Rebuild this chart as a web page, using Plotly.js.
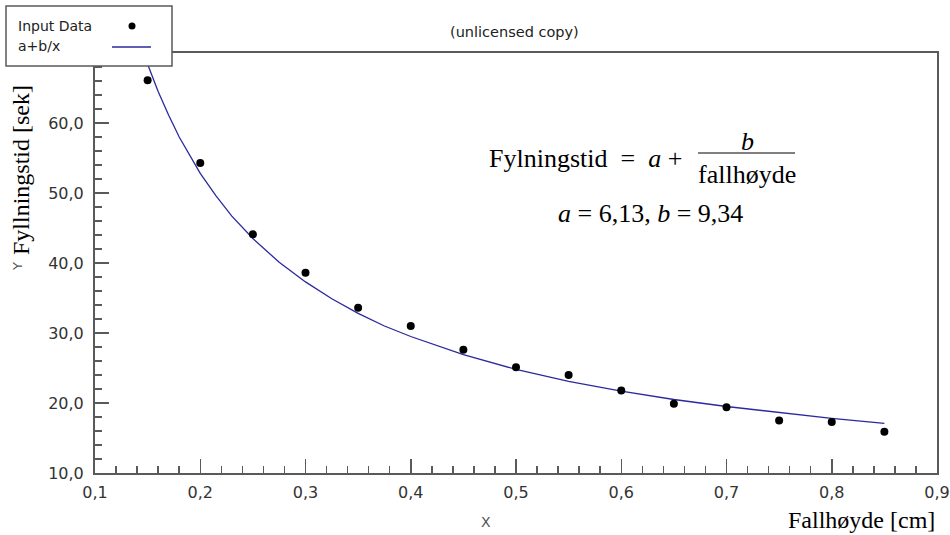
<!DOCTYPE html>
<html>
<head>
<meta charset="utf-8">
<script src="https://cdn.plot.ly/plotly-3.0.1.min.js"></script>
<style>html,body{margin:0;padding:0;background:#fff;}#chart{width:950px;height:535px;}</style>
</head>
<body>
<div id="chart"></div>
<script>
// Data
const inputX = [0.15, 0.20, 0.25, 0.30, 0.35, 0.40, 0.45, 0.50, 0.55, 0.60, 0.65, 0.70, 0.75, 0.80, 0.85];
const inputY = [66.1, 54.3, 44.1, 38.6, 33.6, 31.0, 27.6, 25.1, 24.0, 21.8, 19.9, 19.4, 17.5, 17.3, 15.9];
const fitX = [0.14, 0.145, 0.15, 0.16, 0.17, 0.18, 0.19, 0.20, 0.215, 0.23, 0.25, 0.275, 0.30, 0.325, 0.35, 0.375, 0.40, 0.45, 0.50, 0.55, 0.60, 0.65, 0.70, 0.75, 0.80, 0.85];
const fitY = [72.8, 70.5, 68.4, 64.5, 61.1, 58.0, 55.3, 52.8, 49.6, 46.7, 43.5, 40.1, 37.3, 34.9, 32.8, 31.0, 29.5, 26.9, 24.8, 23.1, 21.7, 20.5, 19.5, 18.6, 17.8, 17.1];
const xTicks = [0.1, 0.2, 0.3, 0.4, 0.5, 0.6, 0.7, 0.8, 0.9];
const yTicks = [10, 20, 30, 40, 50, 60];
const legendNames = ["Input Data", "a+b/x"];

// Layout geometry helpers (pixels -> paper)
const W = 950, H = 535;
const M = {l: 95, r: 13, t: 53, b: 62};
const PW = W - M.l - M.r, PH = H - M.t - M.b;
const px = v => (v - M.l) / PW;
const py = v => (H - M.b - v) / PH;

const frameColor = '#5a5a5a';
const lineColor = '#2a2a9c';
const sans = 'DejaVu Sans, sans-serif';
const serif = 'Liberation Serif, Times New Roman, serif';

const traces = [
  {x: fitX, y: fitY, type: 'scatter', mode: 'lines', name: legendNames[1],
   line: {color: lineColor, width: 1.3}, showlegend: false},
  {x: inputX, y: inputY, type: 'scatter', mode: 'markers', name: legendNames[0],
   marker: {color: '#000', size: 8}, showlegend: false}
];

const tickFont = {family: 'DejaVu Sans', size: 16, color: '#333'};

const layout = {
  width: W, height: H,
  margin: M,
  paper_bgcolor: '#fff', plot_bgcolor: '#fff',
  separators: ',.',
  showlegend: false,
  xaxis: {
    showgrid: false, zeroline: false, showline: true, mirror: true,
    linecolor: frameColor, linewidth: 2,
    ticks: 'inside', ticklen: 14, tickwidth: 1.5, tickcolor: frameColor,
    tickfont: tickFont, tickformat: '.1f',
    range: [0.1, 0.9], tickvals: xTicks, ticklabelstandoff: 4,
    minor: {ticks: 'inside', ticklen: 7, dtick: 0.02, tick0: 0.1, tickcolor: frameColor, tickwidth: 1.5}
  },
  yaxis: {
    showgrid: false, zeroline: false, showline: true, mirror: true,
    linecolor: frameColor, linewidth: 2,
    ticks: 'inside', ticklen: 14, tickwidth: 1.5, tickcolor: frameColor,
    tickfont: tickFont, tickformat: '.1f',
    range: [10, 70], tickvals: yTicks, ticklabelstandoff: 6,
    minor: {ticks: 'inside', ticklen: 7, dtick: 2, tick0: 10, tickcolor: frameColor, tickwidth: 1.5}
  },
  shapes: [
    // legend box
    {type: 'rect', xref: 'paper', yref: 'paper', x0: px(6), x1: px(172), y0: py(66), y1: py(6),
     line: {color: frameColor, width: 1.5}, fillcolor: '#fff', layer: 'above'},
    {type: 'circle', xref: 'paper', yref: 'paper', x0: px(128.5), x1: px(135.5), y0: py(29.5), y1: py(22.5),
     line: {color: '#000', width: 0}, fillcolor: '#000', layer: 'above'},
    {type: 'line', xref: 'paper', yref: 'paper', x0: px(112), x1: px(151), y0: py(47), y1: py(47),
     line: {color: lineColor, width: 1.3}, layer: 'above'},
    // fraction bar
    {type: 'line', xref: 'paper', yref: 'paper', x0: px(698), x1: px(795), y0: py(153), y1: py(153),
     line: {color: '#000', width: 1}, layer: 'above'}
  ],
  annotations: [
    {text: legendNames[0], xref: 'paper', yref: 'paper', x: px(16), y: py(26), xanchor: 'left', yanchor: 'middle',
     showarrow: false, font: {family: sans, size: 14, color: '#222'}},
    {text: legendNames[1], xref: 'paper', yref: 'paper', x: px(16), y: py(46), xanchor: 'left', yanchor: 'middle',
     showarrow: false, font: {family: sans, size: 14, color: '#222'}},
    {text: '(unlicensed copy)', xref: 'paper', yref: 'paper', x: px(514), y: py(32), xanchor: 'center', yanchor: 'middle',
     showarrow: false, font: {family: sans, size: 14.5, color: '#222'}},
    {text: 'Fyllningstid [sek]', xref: 'paper', yref: 'paper', x: px(21), y: py(170), xanchor: 'center', yanchor: 'middle',
     textangle: -90, showarrow: false, font: {family: serif, size: 24, color: '#000'}},
    {text: 'Y', xref: 'paper', yref: 'paper', x: px(17), y: py(267), xanchor: 'center', yanchor: 'middle',
     textangle: -90, showarrow: false, font: {family: sans, size: 13, color: '#555'}},
    {text: 'X', xref: 'paper', yref: 'paper', x: px(486), y: py(522), xanchor: 'center', yanchor: 'middle',
     showarrow: false, font: {family: sans, size: 14, color: '#555'}},
    {text: 'Fallhøyde [cm]', xref: 'paper', yref: 'paper', x: px(937), y: py(520), xanchor: 'right', yanchor: 'middle',
     showarrow: false, font: {family: serif, size: 24, color: '#000'}},
    {text: 'Fylningstid  =  <i>a</i> + ', xref: 'paper', yref: 'paper', x: px(691), y: py(158), xanchor: 'right', yanchor: 'middle',
     showarrow: false, font: {family: serif, size: 26, color: '#000'}},
    {text: '<i>b</i>', xref: 'paper', yref: 'paper', x: px(747), y: py(141), xanchor: 'center', yanchor: 'middle',
     showarrow: false, font: {family: serif, size: 26, color: '#000'}},
    {text: 'fallhøyde', xref: 'paper', yref: 'paper', x: px(746.5), y: py(174), xanchor: 'center', yanchor: 'middle',
     showarrow: false, font: {family: serif, size: 26, color: '#000'}},
    {text: '<i>a</i> = 6,13, <i>b</i> = 9,34', xref: 'paper', yref: 'paper', x: px(650), y: py(213), xanchor: 'center', yanchor: 'middle',
     showarrow: false, font: {family: serif, size: 26, color: '#000'}}
  ]
};

Plotly.newPlot('chart', traces, layout, {staticPlot: true, displayModeBar: false});
</script>
</body>
</html>
